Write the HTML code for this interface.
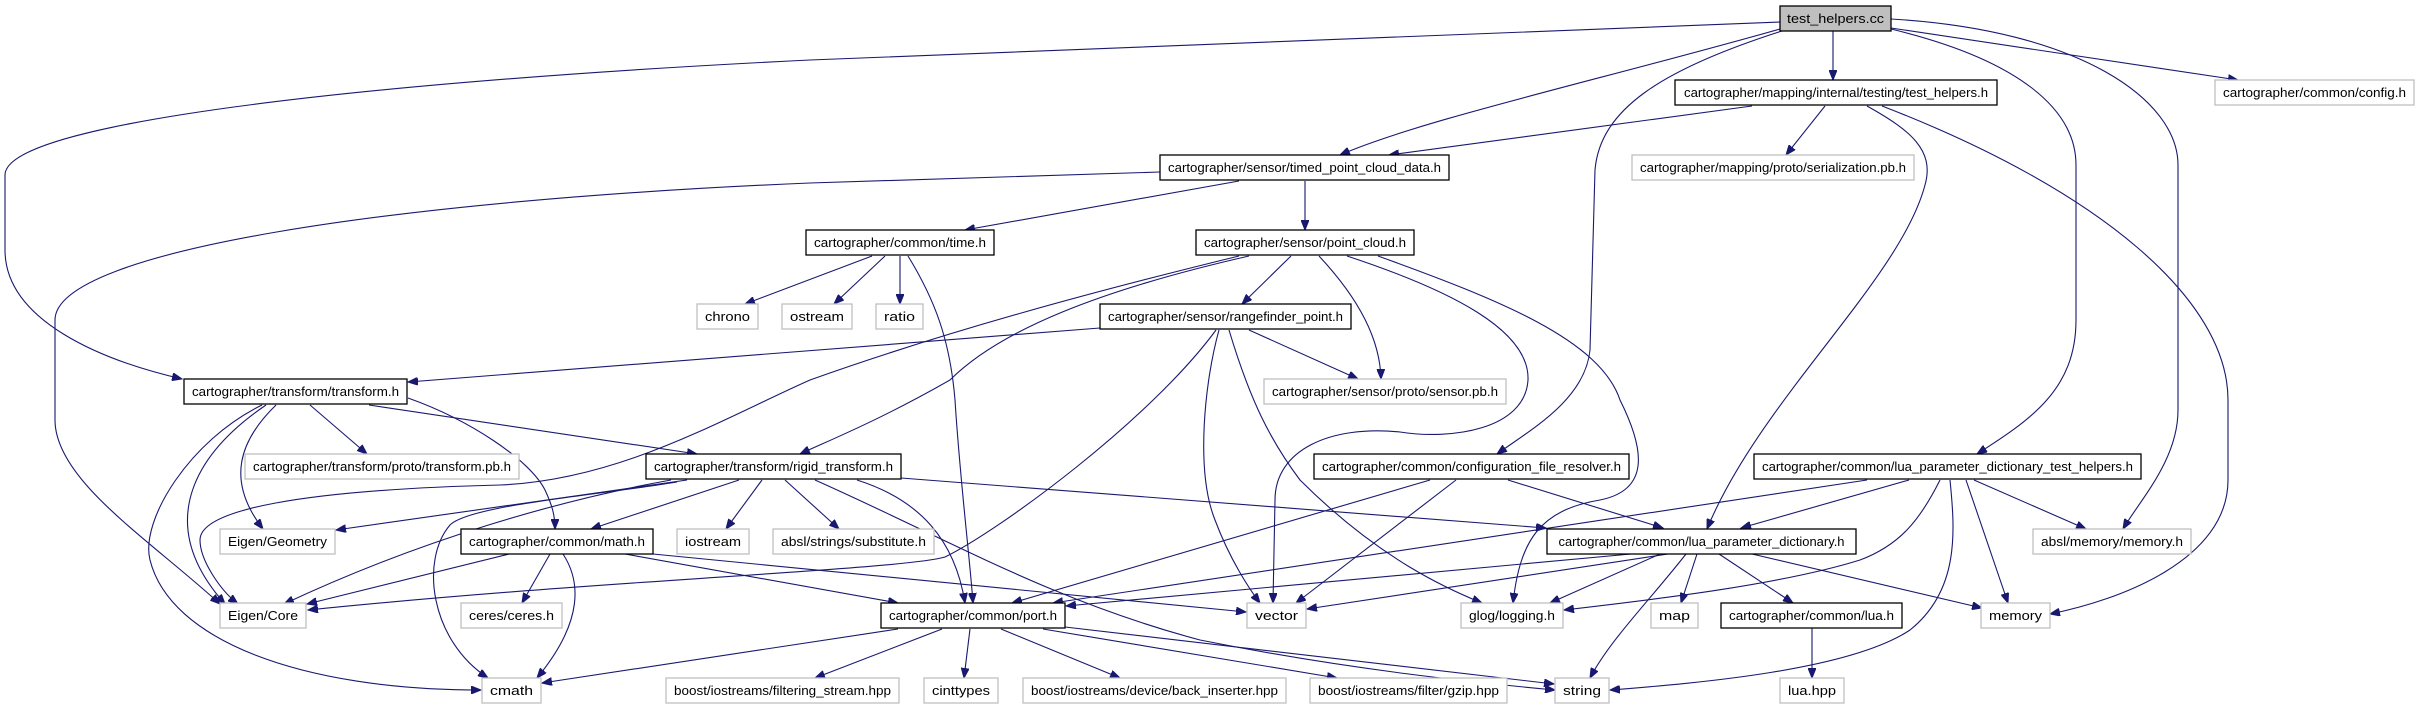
<!DOCTYPE html>
<html><head><meta charset="utf-8"><style>
html,body{margin:0;padding:0;background:#fff;}
svg{display:block;}
text{font-family:"Liberation Sans",sans-serif;font-size:12.5px;fill:#000;}
.e{fill:none;stroke:#191970;stroke-width:1.1;marker-end:url(#a);}
.n{fill:#fff;stroke:#000;stroke-width:1.3;}
.g{fill:#fff;stroke:#bfbfbf;stroke-width:1.3;}
</style></head><body>
<svg width="2420" height="709" viewBox="0 0 2420 709" xmlns="http://www.w3.org/2000/svg">
<defs><marker id="a" markerUnits="userSpaceOnUse" markerWidth="11" markerHeight="8" refX="10" refY="4" orient="auto"><path d="M0,0 L10,4 L0,8 z" fill="#191970" stroke="#191970"/></marker></defs>
<g>
<path class="e" d="M1780,22 L810,60 C400,80 5,120 5,175 L5,250 C5,320 100,360 182,379"/>
<path class="e" d="M1780,29 C1600,80 1420,120 1340,155"/>
<path class="e" d="M1752,106 L1389,155"/>
<path class="e" d="M1782,31 C1660,70 1600,110 1595,170 L1590,350 C1585,400 1530,430 1497,454"/>
<path class="e" d="M1833,31 L1833,80"/>
<path class="e" d="M1891,28 L2238,80"/>
<path class="e" d="M1891,29 C2020,60 2076,110 2076,165 L2076,320 C2076,390 2030,420 1977,454"/>
<path class="e" d="M1891,19 C2080,30 2178,100 2178,165 L2178,410 C2178,460 2140,500 2123,529"/>
<path class="e" d="M1825,106 L1786,155"/>
<path class="e" d="M1867,106 C1910,130 1935,150 1925,185 C1900,280 1760,400 1707,529"/>
<path class="e" d="M1882,106 C2100,190 2228,300 2228,400 L2228,480 C2228,560 2120,600 2050,614"/>
<path class="e" d="M1239,181 L965,230"/>
<path class="e" d="M1305,181 L1305,230"/>
<path class="e" d="M1160,172 L810,183 C400,200 55,250 55,320 L55,420 C55,480 150,540 220,604"/>
<path class="e" d="M872,256 L745,304"/>
<path class="e" d="M885,256 L834,304"/>
<path class="e" d="M900,256 L900,304"/>
<path class="e" d="M908,256 C935,300 950,340 955,400 C960,480 970,560 973,603"/>
<path class="e" d="M1239,256 C1100,290 950,330 810,380 C720,420 620,480 500,485 C300,490 200,510 200,540 C200,560 220,590 238,604"/>
<path class="e" d="M1249,256 C1100,290 1000,330 950,380 C880,420 830,440 800,454"/>
<path class="e" d="M1291,256 L1242,304"/>
<path class="e" d="M1319,256 C1360,300 1380,340 1381,379"/>
<path class="e" d="M1347,256 C1450,290 1530,330 1528,380 C1525,430 1450,440 1400,432 C1330,425 1275,450 1275,500 L1273,603"/>
<path class="e" d="M1378,256 C1500,300 1600,340 1620,400 C1645,450 1650,490 1600,500 C1540,510 1520,540 1513,603"/>
<path class="e" d="M1100,328 L408,382"/>
<path class="e" d="M1216,330 C1150,420 1000,530 945,557 C900,570 600,580 308,610"/>
<path class="e" d="M1219,330 C1205,380 1195,470 1215,520 C1230,560 1250,590 1260,603"/>
<path class="e" d="M1229,330 C1250,400 1270,440 1300,480 C1380,560 1450,590 1482,603"/>
<path class="e" d="M1249,330 L1358,379"/>
<path class="e" d="M310,405 L367,454"/>
<path class="e" d="M276,405 C240,440 225,480 263,529"/>
<path class="e" d="M266,405 C200,450 150,520 225,604"/>
<path class="e" d="M262,405 C190,440 140,520 150,560 C170,640 300,690 481,690"/>
<path class="e" d="M369,405 L697,454"/>
<path class="e" d="M408,398 C470,420 530,460 545,490 C552,505 555,515 555,529"/>
<path class="e" d="M687,480 L336,530"/>
<path class="e" d="M671,480 C560,500 420,540 284,604"/>
<path class="e" d="M677,482 C600,495 470,505 450,525 C420,560 430,640 488,678"/>
<path class="e" d="M739,480 L591,529"/>
<path class="e" d="M762,480 L726,529"/>
<path class="e" d="M785,480 L839,529"/>
<path class="e" d="M857,480 C920,500 955,540 965,603"/>
<path class="e" d="M815,480 C950,540 1050,600 1200,640 C1350,670 1480,683 1555,690"/>
<path class="e" d="M901,478 L1546,528"/>
<path class="e" d="M509,554 L307,604"/>
<path class="e" d="M550,554 L522,603"/>
<path class="e" d="M563,554 C580,580 585,620 537,678"/>
<path class="e" d="M625,554 L898,603"/>
<path class="e" d="M653,554 L1246,612"/>
<path class="e" d="M898,629 L542,683"/>
<path class="e" d="M942,629 L815,678"/>
<path class="e" d="M970,629 L964,678"/>
<path class="e" d="M1001,629 L1120,678"/>
<path class="e" d="M1043,629 L1337,678"/>
<path class="e" d="M1065,627 L1554,684"/>
<path class="e" d="M1430,480 L1012,603"/>
<path class="e" d="M1456,480 L1296,603"/>
<path class="e" d="M1508,480 L1663,528"/>
<path class="e" d="M1867,480 L1053,603"/>
<path class="e" d="M1909,480 L1741,528"/>
<path class="e" d="M1940,480 C1920,520 1900,545 1860,560 C1780,585 1650,600 1564,610"/>
<path class="e" d="M1950,480 C1955,530 1960,590 1910,630 C1850,670 1700,683 1610,690"/>
<path class="e" d="M1966,480 L2008,603"/>
<path class="e" d="M1974,480 L2086,529"/>
<path class="e" d="M1631,554 L1066,606"/>
<path class="e" d="M1668,554 L1307,609"/>
<path class="e" d="M1660,554 L1550,603"/>
<path class="e" d="M1686,554 C1650,600 1610,640 1590,678"/>
<path class="e" d="M1697,554 L1681,603"/>
<path class="e" d="M1719,554 L1793,603"/>
<path class="e" d="M1752,554 L1982,608"/>
<path class="e" d="M1812,628 L1812,678"/>
</g>
<g>
<rect x="1780" y="6" width="111" height="25" fill="#bfbfbf" stroke="#000" stroke-width="1.3"/><text x="1835.5" y="23" text-anchor="middle" textLength="97" lengthAdjust="spacingAndGlyphs">test_helpers.cc</text>
<rect class="n" x="1675" y="80" width="322" height="25"/><text x="1836" y="97" text-anchor="middle" textLength="304" lengthAdjust="spacingAndGlyphs">cartographer/mapping/internal/testing/test_helpers.h</text>
<rect class="g" x="2215" y="80" width="199" height="25"/><text x="2314.5" y="97" text-anchor="middle" textLength="183" lengthAdjust="spacingAndGlyphs">cartographer/common/config.h</text>
<rect class="n" x="1160" y="155" width="289" height="25"/><text x="1304.5" y="172" text-anchor="middle" textLength="273" lengthAdjust="spacingAndGlyphs">cartographer/sensor/timed_point_cloud_data.h</text>
<rect class="g" x="1632" y="155" width="282" height="25"/><text x="1773" y="172" text-anchor="middle" textLength="266" lengthAdjust="spacingAndGlyphs">cartographer/mapping/proto/serialization.pb.h</text>
<rect class="n" x="806" y="230" width="188" height="25"/><text x="900" y="247" text-anchor="middle" textLength="172" lengthAdjust="spacingAndGlyphs">cartographer/common/time.h</text>
<rect class="n" x="1196" y="230" width="218" height="25"/><text x="1305" y="247" text-anchor="middle" textLength="202" lengthAdjust="spacingAndGlyphs">cartographer/sensor/point_cloud.h</text>
<rect class="g" x="697" y="304" width="61" height="25"/><text x="727.5" y="321" text-anchor="middle" textLength="45" lengthAdjust="spacingAndGlyphs">chrono</text>
<rect class="g" x="782" y="304" width="70" height="25"/><text x="817" y="321" text-anchor="middle" textLength="54" lengthAdjust="spacingAndGlyphs">ostream</text>
<rect class="g" x="876" y="304" width="47" height="25"/><text x="899.5" y="321" text-anchor="middle" textLength="31" lengthAdjust="spacingAndGlyphs">ratio</text>
<rect class="n" x="1100" y="304" width="251" height="25"/><text x="1225.5" y="321" text-anchor="middle" textLength="235" lengthAdjust="spacingAndGlyphs">cartographer/sensor/rangefinder_point.h</text>
<rect class="n" x="184" y="379" width="223" height="25"/><text x="295.5" y="396" text-anchor="middle" textLength="207" lengthAdjust="spacingAndGlyphs">cartographer/transform/transform.h</text>
<rect class="g" x="1264" y="379" width="242" height="25"/><text x="1385" y="396" text-anchor="middle" textLength="226" lengthAdjust="spacingAndGlyphs">cartographer/sensor/proto/sensor.pb.h</text>
<rect class="g" x="245" y="454" width="274" height="25"/><text x="382" y="471" text-anchor="middle" textLength="258" lengthAdjust="spacingAndGlyphs">cartographer/transform/proto/transform.pb.h</text>
<rect class="n" x="646" y="454" width="255" height="25"/><text x="773.5" y="471" text-anchor="middle" textLength="239" lengthAdjust="spacingAndGlyphs">cartographer/transform/rigid_transform.h</text>
<rect class="n" x="1314" y="454" width="315" height="25"/><text x="1471.5" y="471" text-anchor="middle" textLength="299" lengthAdjust="spacingAndGlyphs">cartographer/common/configuration_file_resolver.h</text>
<rect class="n" x="1754" y="454" width="387" height="25"/><text x="1947.5" y="471" text-anchor="middle" textLength="371" lengthAdjust="spacingAndGlyphs">cartographer/common/lua_parameter_dictionary_test_helpers.h</text>
<rect class="g" x="220" y="529" width="115" height="25"/><text x="277.5" y="546" text-anchor="middle" textLength="99" lengthAdjust="spacingAndGlyphs">Eigen/Geometry</text>
<rect class="n" x="461" y="529" width="192" height="25"/><text x="557" y="546" text-anchor="middle" textLength="176" lengthAdjust="spacingAndGlyphs">cartographer/common/math.h</text>
<rect class="g" x="677" y="529" width="72" height="25"/><text x="713" y="546" text-anchor="middle" textLength="56" lengthAdjust="spacingAndGlyphs">iostream</text>
<rect class="g" x="773" y="529" width="161" height="25"/><text x="853.5" y="546" text-anchor="middle" textLength="145" lengthAdjust="spacingAndGlyphs">absl/strings/substitute.h</text>
<rect class="n" x="1547" y="529" width="309" height="25"/><text x="1701.5" y="546" text-anchor="middle" textLength="286" lengthAdjust="spacingAndGlyphs">cartographer/common/lua_parameter_dictionary.h</text>
<rect class="g" x="2033" y="529" width="158" height="25"/><text x="2112" y="546" text-anchor="middle" textLength="142" lengthAdjust="spacingAndGlyphs">absl/memory/memory.h</text>
<rect class="g" x="220" y="603" width="86" height="25"/><text x="263" y="620" text-anchor="middle" textLength="70" lengthAdjust="spacingAndGlyphs">Eigen/Core</text>
<rect class="g" x="461" y="603" width="101" height="25"/><text x="511.5" y="620" text-anchor="middle" textLength="85" lengthAdjust="spacingAndGlyphs">ceres/ceres.h</text>
<rect class="n" x="881" y="603" width="184" height="25"/><text x="973" y="620" text-anchor="middle" textLength="168" lengthAdjust="spacingAndGlyphs">cartographer/common/port.h</text>
<rect class="g" x="1247" y="603" width="59" height="25"/><text x="1276.5" y="620" text-anchor="middle" textLength="43" lengthAdjust="spacingAndGlyphs">vector</text>
<rect class="g" x="1461" y="603" width="102" height="25"/><text x="1512" y="620" text-anchor="middle" textLength="86" lengthAdjust="spacingAndGlyphs">glog/logging.h</text>
<rect class="g" x="1651" y="603" width="47" height="25"/><text x="1674.5" y="620" text-anchor="middle" textLength="31" lengthAdjust="spacingAndGlyphs">map</text>
<rect class="n" x="1721" y="603" width="181" height="25"/><text x="1811.5" y="620" text-anchor="middle" textLength="165" lengthAdjust="spacingAndGlyphs">cartographer/common/lua.h</text>
<rect class="g" x="1981" y="603" width="69" height="25"/><text x="2015.5" y="620" text-anchor="middle" textLength="53" lengthAdjust="spacingAndGlyphs">memory</text>
<rect class="g" x="482" y="678" width="59" height="25"/><text x="511.5" y="695" text-anchor="middle" textLength="43" lengthAdjust="spacingAndGlyphs">cmath</text>
<rect class="g" x="666" y="678" width="233" height="25"/><text x="782.5" y="695" text-anchor="middle" textLength="217" lengthAdjust="spacingAndGlyphs">boost/iostreams/filtering_stream.hpp</text>
<rect class="g" x="924" y="678" width="74" height="25"/><text x="961" y="695" text-anchor="middle" textLength="58" lengthAdjust="spacingAndGlyphs">cinttypes</text>
<rect class="g" x="1023" y="678" width="263" height="25"/><text x="1154.5" y="695" text-anchor="middle" textLength="247" lengthAdjust="spacingAndGlyphs">boost/iostreams/device/back_inserter.hpp</text>
<rect class="g" x="1310" y="678" width="197" height="25"/><text x="1408.5" y="695" text-anchor="middle" textLength="181" lengthAdjust="spacingAndGlyphs">boost/iostreams/filter/gzip.hpp</text>
<rect class="g" x="1555" y="678" width="54" height="25"/><text x="1582" y="695" text-anchor="middle" textLength="38" lengthAdjust="spacingAndGlyphs">string</text>
<rect class="g" x="1780" y="678" width="64" height="25"/><text x="1812" y="695" text-anchor="middle" textLength="48" lengthAdjust="spacingAndGlyphs">lua.hpp</text>
</g>
</svg>
</body></html>
